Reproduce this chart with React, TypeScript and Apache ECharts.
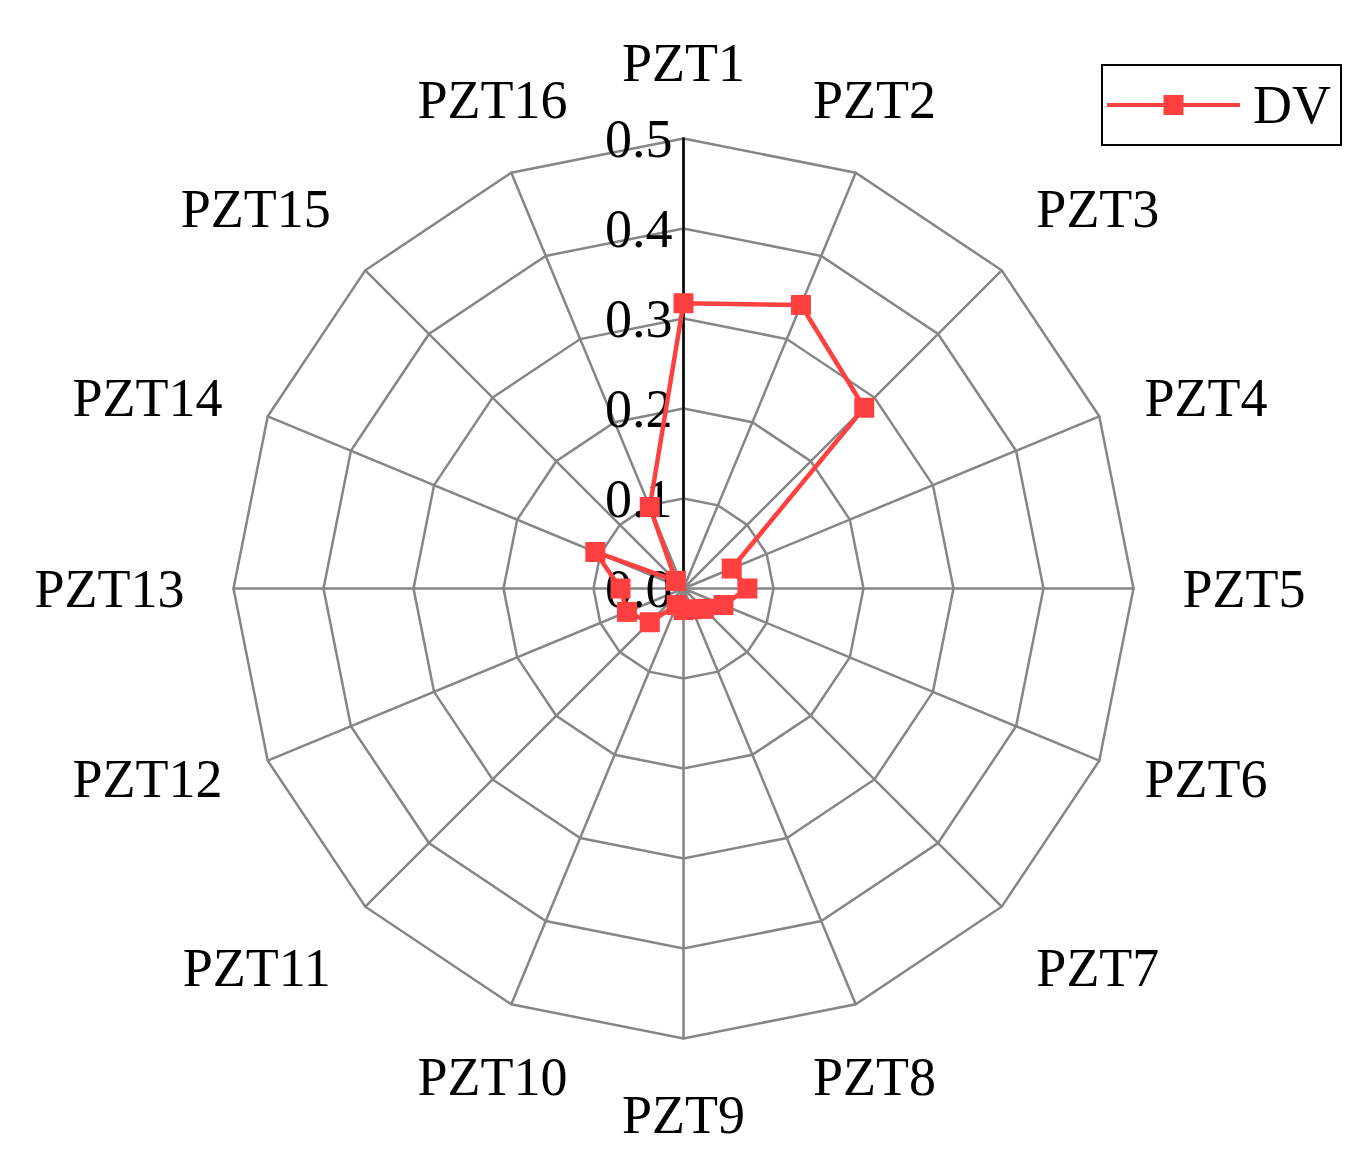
import React, { useEffect, useRef } from "react";
import * as echarts from "echarts";

const categories = [
  "PZT1", "PZT2", "PZT3", "PZT4", "PZT5", "PZT6", "PZT7", "PZT8",
  "PZT9", "PZT10", "PZT11", "PZT12", "PZT13", "PZT14", "PZT15", "PZT16",
];
const dvValues = [
  0.317, 0.341, 0.284, 0.058, 0.071, 0.048, 0.032, 0.025,
  0.024, 0.02, 0.053, 0.068, 0.07, 0.106, 0.012, 0.098,
];
const seriesName = "DV";
const axisMax = 0.5;
const axisInterval = 0.1;

const FONT = "'Liberation Serif', 'Times New Roman', serif";
const CX = 683.5;
const CY = 588.5;
const R = 450;
const NAME_DIST = 499;

export default function App() {
  const ref = useRef<HTMLDivElement>(null);
  useEffect(() => {
    if (!ref.current) return;
    const chart = echarts.init(ref.current, undefined, { renderer: "svg" });
    const n = categories.length;
    // ECharts radar goes counter-clockwise; reorder so the chart reads clockwise
    const order = categories.map((_, i) => (n - i) % n);
    const indicator = order.map((i) => ({ name: categories[i], min: 0, max: axisMax }));
    const data = order.map((i) => dvValues[i]);

    const nameTexts = categories.map((name, k) => {
      const th = (k * 2 * Math.PI) / n;
      const s = Math.sin(th);
      const c = Math.cos(th);
      const align = Math.abs(s) < 0.5 ? "center" : s > 0 ? "left" : "right";
      const vAlign = Math.abs(c) < 0.5 ? "middle" : c > 0 ? "bottom" : "top";
      return {
        type: "text",
        x: CX + NAME_DIST * s,
        y: CY - NAME_DIST * c,
        silent: true,
        style: {
          text: name,
          fontSize: 54,
          fontFamily: FONT,
          fill: "#000",
          align,
          verticalAlign: vAlign,
        },
      };
    });

    chart.setOption({
      animation: false,
      backgroundColor: "#fff",
      legend: {
        data: [seriesName],
        left: 1102,
        top: 65,
        orient: "horizontal",
        padding: [13, 10, 13, 5],
        borderColor: "#000",
        borderWidth: 2,
        borderRadius: 0,
        itemWidth: 133,
        itemHeight: 20,
        icon: "path://M0,8h133v4H0z M56.5,0h20v20h-20z",
        itemStyle: { borderWidth: 0 },
        textStyle: {
          fontSize: 54,
          fontFamily: FONT,
          color: "#000",
          padding: [0, 0, 0, 8],
        },
      },
      radar: {
        center: [CX, CY],
        radius: R,
        startAngle: 90,
        shape: "polygon",
        splitNumber: 5,
        indicator,
        axisName: { show: false },
        axisLine: { lineStyle: { color: "#868686", width: 2.5 } },
        splitLine: { lineStyle: { color: "#868686", width: 2.5 } },
        splitArea: { show: false },
        axisTick: { show: false },
        axisLabel: { show: false },
      },
      polar: { center: [CX, CY], radius: R },
      angleAxis: { type: "value", min: 0, max: 360, startAngle: 90, show: false },
      radiusAxis: {
        type: "value",
        min: 0,
        max: axisMax,
        interval: axisInterval,
        z: 1,
        axisLine: { show: true, lineStyle: { color: "#000", width: 2.5 } },
        axisTick: { show: false },
        splitLine: { show: false },
        axisLabel: {
          show: true,
          fontSize: 54,
          fontFamily: FONT,
          color: "#000",
          margin: 11,
          formatter: (v: number) => v.toFixed(1),
        },
      },
      graphic: nameTexts,
      series: [
        {
          name: seriesName,
          type: "radar",
          z: 3,
          symbol: "rect",
          symbolSize: 20,
          lineStyle: { color: "#FF4040", width: 4.5 },
          itemStyle: { color: "#FF4040" },
          data: [{ value: data, name: seriesName }],
        },
      ],
    });
    return () => chart.dispose();
  }, []);
  return (
    <div
      ref={ref}
      style={{ position: "absolute", left: 0, top: 0, width: 1367, height: 1167 }}
    />
  );
}
